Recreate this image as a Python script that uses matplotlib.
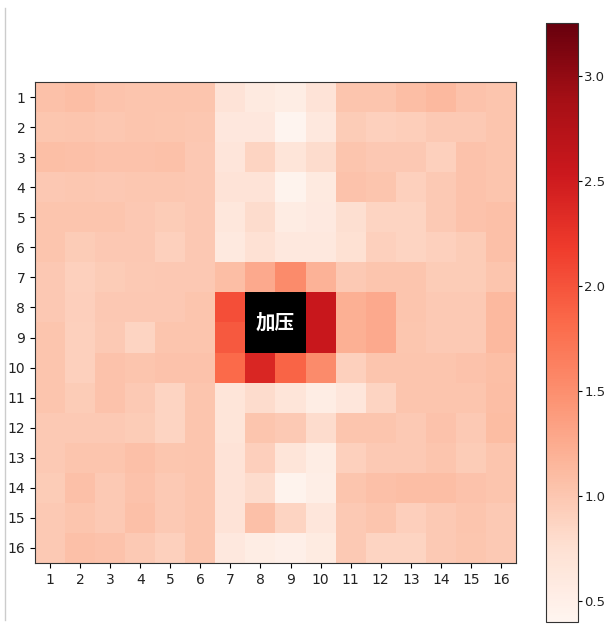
import numpy as np
import matplotlib
matplotlib.use("Agg")
import matplotlib.pyplot as plt
from matplotlib.lines import Line2D

plt.rcParams['font.family'] = ['DejaVu Sans']

rows = list(range(1, 17))
cols = list(range(1, 17))
nan = np.nan
values = [
    [1.05, 1.08, 1.03, 1.02, 1.02, 1.02, 0.70, 0.58, 0.54, 0.70, 1.02, 1.02, 1.08, 1.13, 1.04, 1.02],
    [1.01, 1.02, 1.00, 1.02, 1.01, 1.00, 0.63, 0.63, 0.42, 0.62, 0.95, 0.91, 0.93, 0.97, 0.97, 1.02],
    [1.07, 1.06, 1.04, 1.04, 1.05, 0.99, 0.66, 0.87, 0.67, 0.80, 1.02, 0.99, 0.99, 0.91, 1.04, 1.02],
    [0.99, 1.00, 0.99, 1.00, 1.00, 0.99, 0.70, 0.70, 0.44, 0.58, 1.04, 1.02, 0.91, 0.97, 1.04, 1.02],
    [1.02, 1.02, 1.02, 0.99, 0.95, 0.99, 0.64, 0.80, 0.55, 0.60, 0.76, 0.87, 0.87, 0.97, 1.04, 1.06],
    [1.02, 0.95, 0.99, 0.99, 0.91, 0.99, 0.61, 0.73, 0.62, 0.62, 0.74, 0.91, 0.87, 0.91, 0.95, 1.06],
    [0.98, 0.91, 0.95, 0.97, 0.99, 0.99, 1.08, 1.26, 1.53, 1.18, 0.97, 1.02, 1.02, 0.95, 0.95, 1.02],
    [0.99, 0.92, 0.99, 0.99, 0.99, 1.02, 2.03, nan, nan, 2.55, 1.21, 1.26, 1.02, 0.97, 0.97, 1.13],
    [1.02, 0.91, 0.97, 0.87, 1.02, 1.02, 1.95, nan, nan, 2.55, 1.21, 1.26, 1.01, 0.97, 0.97, 1.13],
    [1.02, 0.91, 1.04, 1.02, 1.04, 1.04, 1.82, 2.39, 1.86, 1.53, 0.91, 1.02, 1.02, 1.02, 1.04, 1.07],
    [1.02, 0.95, 1.04, 0.97, 0.87, 1.02, 0.67, 0.80, 0.67, 0.54, 0.65, 0.87, 1.02, 1.02, 1.02, 1.08],
    [0.97, 0.97, 0.97, 0.95, 0.87, 1.02, 0.67, 1.02, 0.97, 0.80, 1.02, 1.02, 0.97, 1.04, 0.97, 1.10],
    [0.97, 1.02, 1.02, 1.06, 1.01, 1.02, 0.70, 0.92, 0.67, 0.54, 0.91, 0.97, 0.97, 1.02, 0.95, 1.02],
    [0.95, 1.06, 0.97, 1.04, 0.97, 1.02, 0.70, 0.80, 0.44, 0.52, 1.02, 1.06, 1.08, 1.08, 1.04, 1.02],
    [0.97, 1.02, 0.97, 1.06, 0.97, 1.02, 0.70, 1.06, 0.87, 0.65, 0.97, 1.02, 0.92, 0.97, 1.02, 0.97],
    [0.97, 1.06, 1.04, 0.97, 0.91, 1.02, 0.62, 0.54, 0.50, 0.57, 0.97, 0.87, 0.87, 0.97, 1.01, 0.97],
]
label_text = "加压"
vmin, vmax = 0.40, 3.25
cbar_ticks = [0.5, 1.0, 1.5, 2.0, 2.5, 3.0]

W, H = 607, 626
fig = plt.figure(figsize=(W / 100, H / 100), dpi=100)
ax = fig.add_axes([35 / W, (H - 563) / H, 481 / W, 481 / H])
cax = fig.add_axes([546 / W, (H - 622) / H, 32 / W, 599 / H])

cmap = matplotlib.colormaps['Reds'].copy()
cmap.set_bad('black')
data = np.ma.masked_invalid(np.array(values, dtype=float))
im = ax.imshow(data, cmap=cmap, vmin=vmin, vmax=vmax, aspect='auto',
               extent=(0.5, 16.5, 16.5, 0.5), interpolation='nearest')
ax.set_xticks(cols)
ax.set_yticks(rows)
ax.set_xticklabels([str(c) for c in cols], fontsize=10, color='#222222')
ax.set_yticklabels([str(r) for r in rows], fontsize=10, color='#222222')
for s in ax.spines.values():
    s.set_color('#333333')

ax.text(8.5, 8.5, label_text, color='white', fontsize=14, fontweight='bold',
        ha='center', va='center', family=['Noto Sans CJK SC', 'DejaVu Sans'])

cb = fig.colorbar(im, cax=cax)
cb.set_ticks(cbar_ticks)
cb.ax.tick_params(labelsize=9.5, labelcolor='#222222', length=3, pad=1.5)
cb.outline.set_edgecolor('#333333')

fig.add_artist(Line2D([5 / W, 5 / W], [(H - 620) / H, (H - 8) / H],
                      transform=fig.transFigure, color='#cccccc', lw=1))

fig.savefig('out.png', dpi=100)
